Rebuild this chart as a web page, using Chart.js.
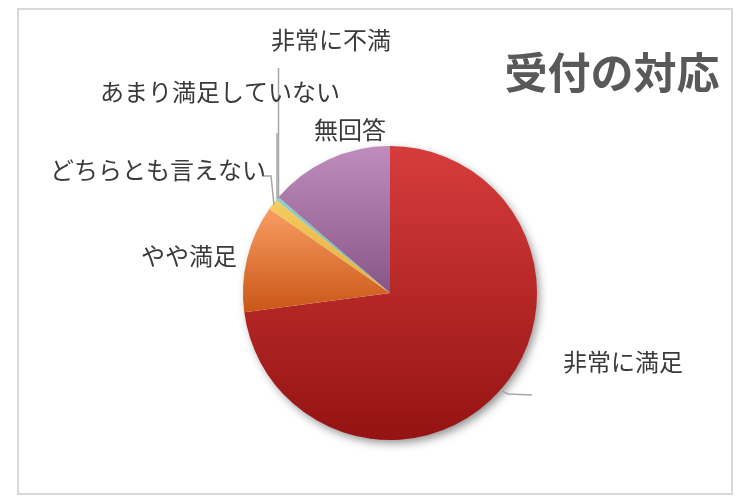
<!DOCTYPE html>
<html>
<head>
<meta charset="utf-8">
<script src="https://cdn.jsdelivr.net/npm/chart.js@4/dist/chart.umd.min.js"></script>
<style>
html,body{margin:0;padding:0;background:#fff;}
canvas{display:block;}
</style>
</head>
<body>
<canvas id="c" width="750" height="500"></canvas>
<script>
// ---- data ----
const categories = ['非常に満足', 'やや満足', 'どちらとも言えない', 'あまり満足していない', '非常に不満', '無回答'];
const values = [72.9, 11.8, 1.2, 0.4, 0, 13.7];
const chartTitle = '受付の対応';

// ---- styles ----
const topColors    = ['#d73c3c', '#f99d63', '#f6cd60', '#8fd0c8', '#9aa4b0', '#bf8cbd'];
const bottomColors = ['#951313', '#c95616', '#e3ab3a', '#6fb0a8', '#7a8490', '#875687'];

// label layout: [centerX, centerY]
const labelPos = [[623, 362], [189, 256], [158, 170], [220, 92], [331, 40], [350, 130]];
// leader lines
const leaders = [
  [[500, 390], [508, 394], [532, 395]],
  [],
  [[262, 176], [271, 176], [274, 205]],
  [[277, 133], [277, 199]],
  [[278.5, 68], [278.5, 198]],
  []
];

function sliceGradient(c) {
  const chart = c.chart;
  const ca = chart.chartArea;
  const i = c.dataIndex;
  if (!ca) return topColors[i];
  const cx = (ca.left + ca.right) / 2, cy = (ca.top + ca.bottom) / 2;
  const r = Math.min(ca.right - ca.left, ca.bottom - ca.top) / 2;
  const total = values.reduce((a, b) => a + b, 0);
  let cum = 0;
  for (let k = 0; k < i; k++) cum += values[k];
  const a0 = -Math.PI / 2 + cum / total * 2 * Math.PI;
  const a1 = a0 + values[i] / total * 2 * Math.PI;
  let minY = cy, maxY = cy;
  const N = 60;
  for (let s = 0; s <= N; s++) {
    const a = a0 + (a1 - a0) * s / N;
    const y = cy + r * Math.sin(a);
    minY = Math.min(minY, y); maxY = Math.max(maxY, y);
  }
  if (maxY - minY < 1) maxY = minY + 1;
  const g = chart.ctx.createLinearGradient(0, minY, 0, maxY);
  g.addColorStop(0, topColors[i]);
  g.addColorStop(1, bottomColors[i]);
  return g;
}

const decor = {
  id: 'decor',
  beforeDraw(chart) {
    const ctx = chart.ctx;
    ctx.save();
    ctx.fillStyle = '#fff';
    ctx.fillRect(0, 0, chart.width, chart.height);
    ctx.strokeStyle = '#d9d9d9';
    ctx.lineWidth = 2;
    ctx.strokeRect(18, 9, 714, 485);
    ctx.restore();
  },
  beforeDatasetsDraw(chart) {
    const ctx = chart.ctx;
    const arc = chart.getDatasetMeta(0).data[0];
    ctx.save();
    ctx.shadowColor = 'rgba(0,0,0,0.45)';
    ctx.shadowBlur = 10;
    ctx.shadowOffsetX = 3;
    ctx.shadowOffsetY = 4;
    ctx.beginPath();
    ctx.arc(arc.x, arc.y, arc.outerRadius - 1, 0, Math.PI * 2);
    ctx.fillStyle = '#fff';
    ctx.fill();
    ctx.restore();
  },
  afterDraw(chart) {
    const ctx = chart.ctx;
    ctx.save();
    // leader lines
    ctx.strokeStyle = '#a6a6a6';
    ctx.lineWidth = 1.5;
    leaders.forEach(pts => {
      if (!pts.length) return;
      ctx.beginPath();
      ctx.moveTo(pts[0][0], pts[0][1]);
      for (let k = 1; k < pts.length; k++) ctx.lineTo(pts[k][0], pts[k][1]);
      ctx.stroke();
    });
    // labels
    ctx.fillStyle = '#3a3a3a';
    ctx.font = '24px "Noto Sans CJK JP", sans-serif';
    ctx.textAlign = 'center';
    ctx.textBaseline = 'middle';
    categories.forEach((t, i) => {
      ctx.fillText(t, labelPos[i][0], labelPos[i][1]);
    });
    // title
    ctx.fillStyle = '#595959';
    ctx.font = 'bold 43px "Noto Sans CJK JP", sans-serif';
    ctx.textAlign = 'center';
    ctx.fillText(chartTitle, 612, 73);
    ctx.restore();
  }
};

new Chart(document.getElementById('c'), {
  type: 'pie',
  data: {
    labels: categories,
    datasets: [{
      data: values,
      backgroundColor: sliceGradient,
      borderWidth: 0
    }]
  },
  options: {
    responsive: false,
    animation: false,
    events: [],
    layout: { padding: { left: 243, right: 213, top: 146, bottom: 60 } },
    plugins: {
      legend: { display: false },
      title: { display: false },
      tooltip: { enabled: false }
    }
  },
  plugins: [decor]
});
</script>
</body>
</html>
